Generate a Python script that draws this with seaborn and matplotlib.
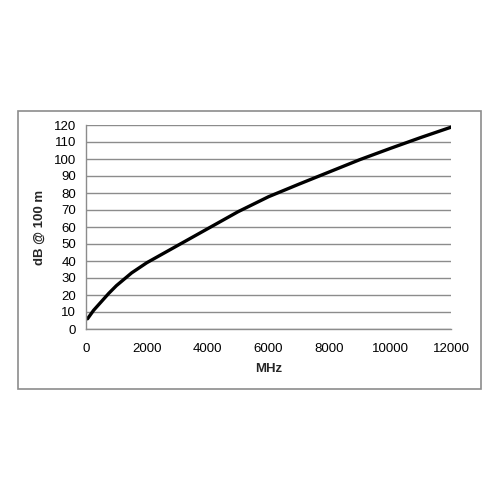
import matplotlib
matplotlib.use("Agg")
import matplotlib.pyplot as plt
import seaborn as sns
import pandas as pd
from matplotlib.patches import Rectangle

freq_mhz = [50, 250, 500, 750, 1000, 1500, 2000, 2500, 3000, 4000, 5000, 6000, 7000, 8000, 9000, 10000, 11000, 12000]
loss_db = [6, 11, 16, 21, 25.5, 33, 39, 44, 49, 59, 69, 77.8, 85.2, 92.4, 99.6, 106.2, 112.6, 118.7]

df = pd.DataFrame({"MHz": freq_mhz, "dB": loss_db})

sns.set_theme(style="white")
plt.rcParams["font.family"] = ["Liberation Sans", "DejaVu Sans"]

fig = plt.figure(figsize=(5, 5), dpi=100)
fig.patch.set_facecolor("white")
fig.add_artist(Rectangle((0.036, 0.222), 0.926, 0.556, transform=fig.transFigure,
                         fill=False, edgecolor="#8c8c8c", linewidth=1.2))

ax = fig.add_axes([0.172, 0.342, 0.730, 0.408])
ax.set_yticks(range(0, 121, 10))
ax.set_xticks(range(0, 12001, 2000))
ax.set_xlim(0, 12000)
ax.set_ylim(0, 120)
ax.grid(axis="y", color="#8c8c8c", linewidth=1.0)
ax.set_axisbelow(True)

sns.lineplot(data=df, x="MHz", y="dB", ax=ax, color="black", linewidth=2.4)

for s in ["top", "right"]:
    ax.spines[s].set_visible(False)
for s in ["left", "bottom"]:
    ax.spines[s].set_color("#8c8c8c")
    ax.spines[s].set_linewidth(1.0)

ax.tick_params(axis="both", labelsize=9.5, colors="black", length=4, width=1.0,
               direction="out", pad=3)
ax.tick_params(axis="x", color="#8c8c8c", pad=6)
ax.tick_params(axis="y", color="#8c8c8c", length=4)
ax.set_xlabel("MHz", fontsize=9.5, fontweight="bold", labelpad=6)
ax.set_ylabel("dB @ 100 m", fontsize=9.5, fontweight="bold", labelpad=6)

fig.savefig("out.png", dpi=100, facecolor="white")
